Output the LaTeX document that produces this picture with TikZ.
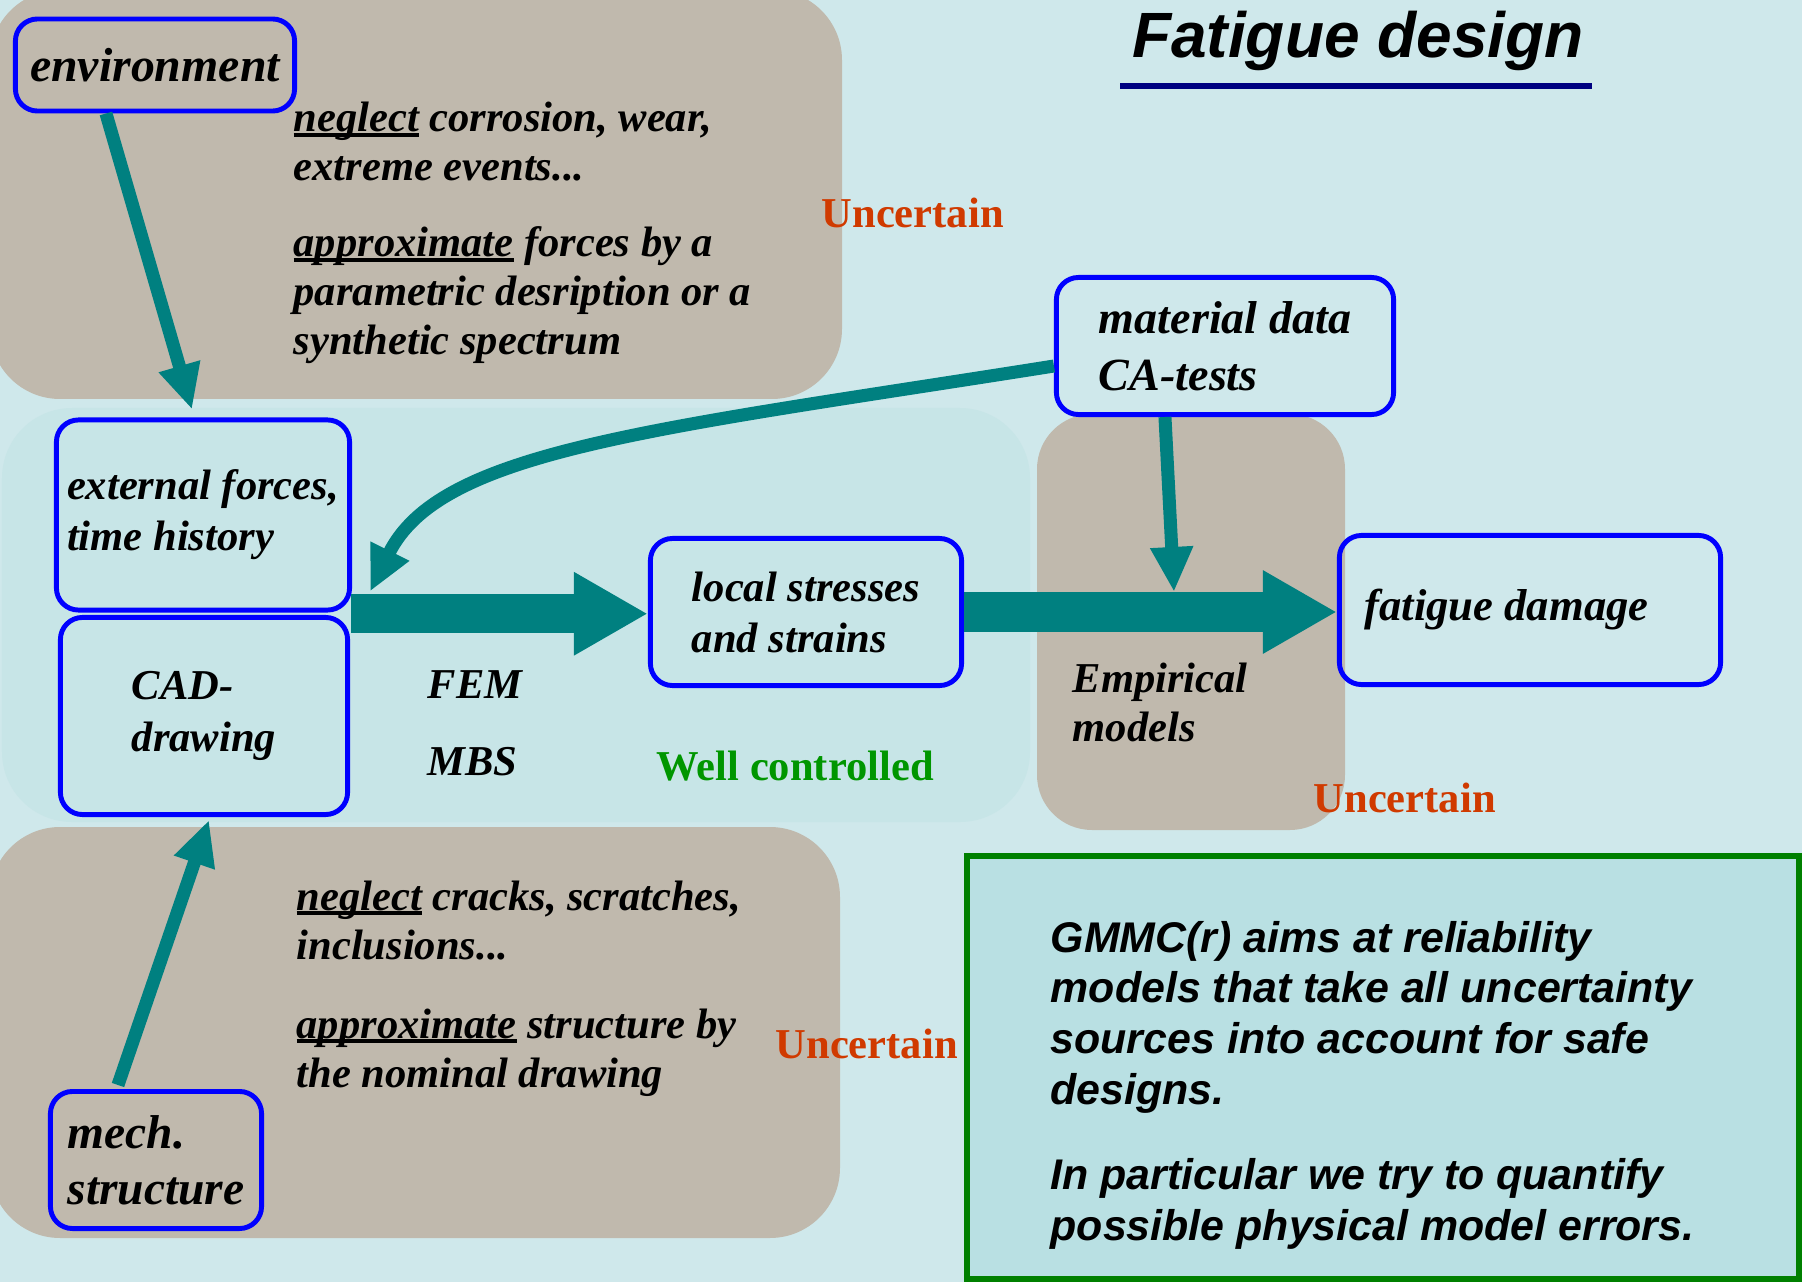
\documentclass[tikz,border=0pt]{standalone}
\usepackage{fontspec}
\setmainfont{Liberation Serif}
\newfontfamily\sansfont{Liberation Sans}
\usetikzlibrary{arrows.meta,calc}

\definecolor{sky}{RGB}{207,232,235}
\definecolor{sand}{RGB}{192,185,173}
\definecolor{calm}{RGB}{199,229,231}
\definecolor{notefill}{RGB}{185,224,227}
\definecolor{rust}{RGB}{208,58,0}
\definecolor{okgreen}{RGB}{0,150,0}
\definecolor{navyline}{RGB}{0,0,128}

% bold italic at a given size / baselineskip
\newcommand{\slidefont}[2]{\fontsize{#1}{#2}\selectfont\bfseries\itshape}
% thick underline crossing the descenders
\newsavebox{\undrbox}
\newcommand{\undr}[1]{\sbox{\undrbox}{#1}\rlap{\rule[-1.4pt]{\wd\undrbox}{1.05pt}}\usebox{\undrbox}}

\tikzset{
  stepbox/.style={draw=blue, line width=1.4pt, rounded corners=0.22cm, inner sep=0pt, align=left},
  flow/.style={draw=teal, line width=0.13cm, -{Triangle[length=0.45cm,width=0.4cm]}},
  bigflow/.style={draw=teal, line width=0.39cm, -{Triangle[length=0.74cm,width=0.78cm]}},
  note/.style={anchor=base west, inner sep=0pt, align=flush left},
  warn/.style={anchor=base west, inner sep=0pt, text=rust, font=\fontsize{12.1}{14}\selectfont\bfseries},
}

\begin{document}
\begin{tikzpicture}[x=0.01cm, y=-0.01cm]
  \useasboundingbox (0,0) rectangle (1802,1282);
  \fill[sky] (0,0) rectangle (1802,1282);

  % shaded areas
  \fill[sand, rounded corners=0.7cm] (-10,-10) rectangle (842,399);
  \fill[calm, rounded corners=0.7cm] (2,408) rectangle (1030,822);
  \fill[sand, rounded corners=0.55cm] (1037,414) rectangle (1345,830);
  \fill[sand, rounded corners=0.7cm] (-10,827) rectangle (840,1238);

  % title
  \node[anchor=base, inner sep=0pt, font=\sansfont\slidefont{18.2}{22}] (title) at (1358,58) {Fatigue design};
  \draw[navyline, line width=0.06cm] (1120,86) -- (1592,86);

  % boxes
  \node[stepbox, minimum width=2.79cm, minimum height=0.92cm, font=\slidefont{13.6}{16}] (env) at (155,65) {environment};
  \node[stepbox, minimum width=2.93cm, minimum height=1.9cm, font=\slidefont{12.1}{14.5}] (ext) at (203,515) {external forces,\\ time history};
  \node[stepbox, minimum width=2.87cm, minimum height=1.97cm, font=\slidefont{12.1}{14.8}] (cad) at (204,716) {CAD-\\ drawing};
  \node[stepbox, minimum width=3.11cm, minimum height=1.47cm, font=\slidefont{12.1}{14.5}] (local) at (806,612) {local stresses\\ and strains};
  \node[stepbox, minimum width=3.37cm, minimum height=1.37cm, font=\slidefont{13.1}{16.2}] (mat) at (1225,346) {material data\\ CA-tests};
  \node[stepbox, align=flush left, text width=3.31cm, inner xsep=0.25cm, minimum height=1.49cm, font=\slidefont{12.7}{15}] (fat) at (1530,610) {fatigue damage};
  \node[stepbox, minimum width=2.11cm, minimum height=1.37cm, font=\slidefont{13.5}{15.9}] (mech) at (156,1160) {mech.\\ structure};

  % ARROWS
  \draw[flow] ([xshift=-0.49cm]env.south) -- ([xshift=-0.11cm,yshift=0.08cm]ext.north);
  \draw[flow] ([xshift=-0.38cm,yshift=0.04cm]mech.north) -- ([xshift=0.05cm,yshift=-0.03cm]cad.south);
  \coordinate (join) at ($(ext.south east)!0.5!(cad.north east)$);
  \draw[bigflow] (join) -- (join -| local.west);
  \draw[bigflow] (local.east) -- (local.east -| fat.west);
  \coordinate (merge) at (1174,592);
  \draw[flow] ([xshift=-0.6cm]mat.south) -- (merge);
  \draw[flow] ([yshift=-0.2cm]mat.west) .. controls (650,430) and (440,450) .. ([xshift=0.18cm,yshift=0.21cm]ext.south east);

  % NOTES
  \node[note, text width=5cm, font=\slidefont{12.1}{13.9}] (envneg) at (293,132) {\undr{neglect} corrosion, wear,\\ extreme events...};
  \node[note, text width=5cm, font=\slidefont{12.1}{13.9}] (envapp) at (293,257) {\undr{approximate} forces by a\\ parametric desription or a\\ synthetic spectrum};
  \node[note, text width=5cm, font=\slidefont{12.1}{14.2}] (mechneg) at (296,910) {\undr{neglect} cracks, scratches,\\ inclusions...};
  \node[note, text width=5cm, font=\slidefont{12.1}{14.2}] (mechapp) at (296,1038) {\undr{approximate} structure by\\ the nominal drawing};

  \node[note, font=\slidefont{12.1}{14}] (fem) at (427,698) {FEM};
  \node[note, font=\slidefont{12.1}{14}] (mbs) at (427,775) {MBS};
  \node[note, text width=2.5cm, font=\slidefont{12.1}{14.2}] (emp) at (1072,692) {Empirical\\ models};

  \node[warn] (unctop) at (821,228) {Uncertain};
  \node[warn] (uncright) at (1313,812) {Uncertain};
  \node[warn] (uncbottom) at (775,1058) {Uncertain};
  \node[note, text=okgreen, font=\fontsize{12.1}{14}\selectfont\bfseries] (ctrl) at (656,780) {Well controlled};

  % aims
  \draw[draw=green!50!black, fill=notefill, line width=0.065cm] (967,856) rectangle (1799,1279);
  \node[note, text width=8cm, font=\sansfont\slidefont{12.2}{14.5}] (aim) at (1050,952)
    {GMMC(r) aims at reliability\\ models that take all uncertainty\\ sources into account for safe\\ designs.\\[0.34cm] In particular we try to quantify\\ possible physical model errors.};
\end{tikzpicture}
\end{document}
